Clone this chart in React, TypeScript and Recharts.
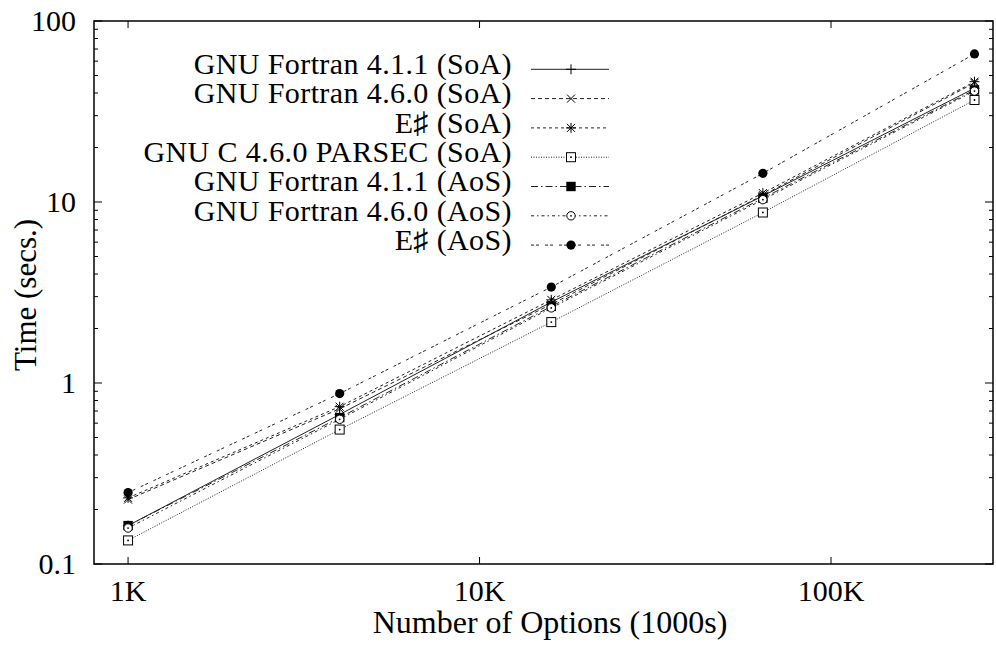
import React from "react";
import { Legend, Line, LineChart, ReferenceArea, XAxis, YAxis } from "recharts";

// number of options (x) and run time in seconds for each build
const N_OPTIONS = [1000, 4000, 16000, 64000, 256000];
const GNU_FORTRAN_411_SOA = [0.163, 0.67, 2.8, 10.8, 42.5];
const GNU_FORTRAN_460_SOA = [0.227, 0.72, 2.72, 10.9, 45.5];
const ESHARP_SOA = [0.232, 0.74, 2.88, 11.2, 46.2];
const GNU_C_PARSEC_SOA = [0.135, 0.553, 2.17, 8.75, 36.6];
const GNU_FORTRAN_411_AOS = [0.163, 0.644, 2.65, 10.5, 41.6];
const GNU_FORTRAN_460_AOS = [0.158, 0.63, 2.6, 10.3, 41.0];
const ESHARP_AOS = [0.248, 0.874, 3.39, 14.4, 65.8];

const X_TICKS = [1000, 10000, 100000];
const X_TICK_LABELS = ["1K", "10K", "100K"];
const Y_MAJOR = [0.1, 1, 10, 100];
const Y_TICK_LABELS = ["0.1", "1", "10", "100"];

const FONT = '"Liberation Serif", "Times New Roman", serif';
const INK = "#000";
const PLOT = { left: 94, right: 993, top: 21, bottom: 564 };

type MarkerKind = "plus" | "cross" | "star" | "box" | "boxFilled" | "circle" | "circleFilled";

const SERIES: { key: string; name: string; values: number[]; dash?: string; marker: MarkerKind }[] = [
  { key: "f411soa", name: "GNU Fortran 4.1.1 (SoA)", values: GNU_FORTRAN_411_SOA, marker: "plus" },
  { key: "f460soa", name: "GNU Fortran 4.6.0 (SoA)", values: GNU_FORTRAN_460_SOA, dash: "4 3", marker: "cross" },
  { key: "esoa", name: "E\u266F (SoA)", values: ESHARP_SOA, dash: "3 3", marker: "star" },
  { key: "parsec", name: "GNU C 4.6.0 PARSEC (SoA)", values: GNU_C_PARSEC_SOA, dash: "1 1.5", marker: "box" },
  { key: "f411aos", name: "GNU Fortran 4.1.1 (AoS)", values: GNU_FORTRAN_411_AOS, dash: "7 3 1.5 3", marker: "boxFilled" },
  { key: "f460aos", name: "GNU Fortran 4.6.0 (AoS)", values: GNU_FORTRAN_460_AOS, dash: "3 3 1.5 3", marker: "circle" },
  { key: "eaos", name: "E\u266F (AoS)", values: ESHARP_AOS, dash: "3 2 3 6", marker: "circleFilled" },
];

const data = N_OPTIONS.map((n, i) => {
  const row: Record<string, number> = { n };
  SERIES.forEach((s) => (row[s.key] = s.values[i]));
  return row;
});

// decade ticks plus the 2..9 minor ticks between them
const Y_TICKS: number[] = [];
Y_MAJOR.forEach((d, i) => {
  Y_TICKS.push(d);
  if (i < Y_MAJOR.length - 1) for (let k = 2; k <= 9; k++) Y_TICKS.push(d * k);
});

function Marker({ kind, cx, cy }: { kind: MarkerKind; cx: number; cy: number }) {
  const s = 5;
  const c = 4;
  switch (kind) {
    case "plus":
      return (
        <g stroke={INK} strokeWidth={1}>
          <line x1={cx - s} x2={cx + s} y1={cy} y2={cy} />
          <line x1={cx} x2={cx} y1={cy - s} y2={cy + s} />
        </g>
      );
    case "cross":
      return (
        <g stroke={INK} strokeWidth={1}>
          <line x1={cx - c} x2={cx + c} y1={cy - c} y2={cy + c} />
          <line x1={cx - c} x2={cx + c} y1={cy + c} y2={cy - c} />
        </g>
      );
    case "star":
      return (
        <g stroke={INK} strokeWidth={1}>
          <line x1={cx - s} x2={cx + s} y1={cy} y2={cy} />
          <line x1={cx} x2={cx} y1={cy - s} y2={cy + s} />
          <line x1={cx - c} x2={cx + c} y1={cy - c} y2={cy + c} />
          <line x1={cx - c} x2={cx + c} y1={cy + c} y2={cy - c} />
        </g>
      );
    case "box":
      return (
        <g>
          <rect x={cx - 4.5} y={cy - 4.5} width={9} height={9} fill="#fff" stroke={INK} strokeWidth={1} />
          <circle cx={cx} cy={cy} r={0.9} fill={INK} />
        </g>
      );
    case "boxFilled":
      return <rect x={cx - 4.7} y={cy - 4.7} width={9.4} height={9.4} fill={INK} />;
    case "circle":
      return (
        <g>
          <circle cx={cx} cy={cy} r={4.2} fill="#fff" stroke={INK} strokeWidth={1} />
          <circle cx={cx} cy={cy} r={0.9} fill={INK} />
        </g>
      );
    default:
      return <circle cx={cx} cy={cy} r={4.6} fill={INK} />;
  }
}

function XTick({ x, payload }: any) {
  const i = X_TICKS.findIndex((t) => Math.abs(t - payload.value) < 1e-6);
  return (
    <g>
      <line x1={x} x2={x} y1={PLOT.bottom} y2={PLOT.bottom - 7} stroke={INK} />
      <line x1={x} x2={x} y1={PLOT.top} y2={PLOT.top + 7} stroke={INK} />
      <text x={x} y={601} textAnchor="middle" fontSize={30} fontFamily={FONT} fill={INK}>
        {X_TICK_LABELS[i]}
      </text>
    </g>
  );
}

function YTick({ y, payload }: any) {
  const i = Y_MAJOR.findIndex((t) => Math.abs(Math.log10(t) - Math.log10(payload.value)) < 1e-6);
  const len = i >= 0 ? 8 : 4;
  return (
    <g>
      <line x1={PLOT.left} x2={PLOT.left + len} y1={y} y2={y} stroke={INK} />
      <line x1={PLOT.right} x2={PLOT.right - len} y1={y} y2={y} stroke={INK} />
      {i >= 0 && (
        <text x={76} y={y} dy="0.33em" textAnchor="end" fontSize={30} fontFamily={FONT} fill={INK}>
          {Y_TICK_LABELS[i]}
        </text>
      )}
    </g>
  );
}

function KeyBox() {
  return (
    <svg width={640} height={270} style={{ display: "block", overflow: "visible" }}>
      {SERIES.map((s, i) => {
        const y = 69.3 + i * 29.3;
        return (
          <g key={s.key}>
            <text x={512} y={y + 4.7} textAnchor="end" fontSize={30} letterSpacing={0.4} fontFamily={FONT} fill={INK}>
              {s.name}
            </text>
            <line x1={531} x2={609} y1={y} y2={y} stroke="#222" strokeDasharray={s.dash} />
            <Marker kind={s.marker} cx={571} cy={y} />
          </g>
        );
      })}
    </svg>
  );
}

export default function App() {
  return (
    <div style={{ position: "absolute", left: 0, top: 0, width: 996, height: 655, background: "#fff" }}>
      <LineChart width={996} height={655} data={data} margin={{ top: PLOT.top, right: 996 - PLOT.right, bottom: 0, left: 0 }}>
        <XAxis
          dataKey="n"
          type="number"
          scale="log"
          domain={[800, 289000]}
          allowDataOverflow
          ticks={X_TICKS}
          interval={0}
          tick={<XTick />}
          tickLine={false}
          axisLine={false}
          height={655 - PLOT.bottom}
        />
        <YAxis
          type="number"
          scale="log"
          domain={[0.1, 100]}
          allowDataOverflow
          ticks={Y_TICKS}
          interval={0}
          tick={<YTick />}
          tickLine={false}
          axisLine={false}
          width={PLOT.left}
        />
        <ReferenceArea x1={800} x2={289000} y1={0.1} y2={100} fill="none" stroke={INK} strokeWidth={1.5} ifOverflow="visible" />
        <Legend
          layout="vertical"
          align="center"
          verticalAlign="middle"
          content={() => <KeyBox />}
          wrapperStyle={{ left: 0, top: 0, width: 640, height: 270 }}
        />
        {SERIES.map((s) => (
          <Line
            key={s.key}
            dataKey={s.key}
            type="linear"
            stroke="#222"
            strokeWidth={1}
            strokeDasharray={s.dash}
            isAnimationActive={false}
            dot={(p: any) => <Marker key={`${s.key}-${p.index}`} kind={s.marker} cx={p.cx} cy={p.cy} />}
            activeDot={false}
          />
        ))}
        <text x={550} y={633} textAnchor="middle" fontSize={32} fontFamily={FONT} fill={INK}>
          Number of Options (1000s)
        </text>
        <text x={36} y={295} transform="rotate(-90, 36, 295)" textAnchor="middle" fontSize={31} fontFamily={FONT} fill={INK}>
          Time (secs.)
        </text>
      </LineChart>
    </div>
  );
}
